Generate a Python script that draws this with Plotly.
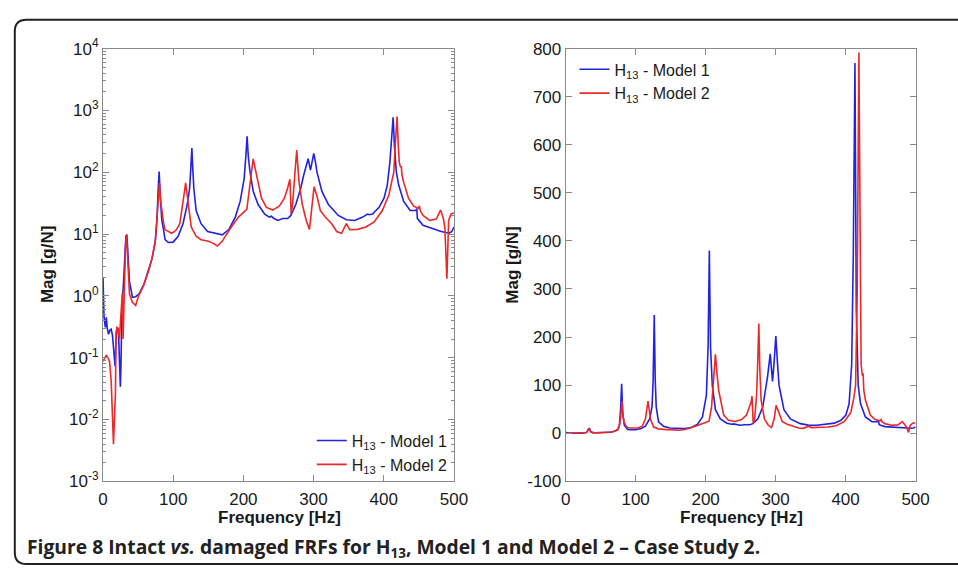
import plotly.graph_objects as go

# Frequency response magnitude |H13| [g/N] versus frequency [Hz]
freq_model1 = [0, 1.4, 3.3, 4.7, 6, 7.9, 10, 11.6, 13.5, 15.5, 17.2, 18.5, 20, 22, 23.5, 24.7,
               25.6, 27, 29, 31, 32.6, 34, 35.8, 37.7, 39.5, 41.9, 46.5, 51.2, 58.2, 65.2, 69.8,
               74.5, 76.8, 78.5, 80, 81.5, 83.8, 86.1, 88.4, 93.1, 100, 107, 114, 120, 123.4,
               125, 126.6, 128, 129.4, 132.7, 139.7, 149, 158, 170, 179.2, 188.5, 195.5, 201.1,
               203.5, 205.3, 207, 209.5, 214, 221, 230.4, 237, 240, 243, 249, 256, 263, 267.7,
               274.7, 281.7, 286, 288.6, 292.3, 295.6, 298, 300.3, 302.5, 304.9, 311.9, 321.2,
               335.2, 346.8, 358.5, 370, 377, 379.4, 384, 393.4, 400.4, 405, 408.7, 411, 413.4,
               415.3, 418, 421.3, 428.3, 437.6, 446, 447, 448, 456, 467.9, 481.8, 493.4, 497, 500]
mag_model1 = [2.0, 0.46, 0.31, 0.45, 0.3, 0.24, 0.28, 0.29, 0.23, 0.12, 0.073, 0.2, 0.31, 0.27,
              0.1, 0.034, 0.078, 0.66, 1.5, 4.0, 9.2, 9.8, 3.5, 1.7, 1.35, 0.95, 0.97, 1.07, 1.53,
              2.6, 4.0, 7.7, 16.6, 50, 103, 43, 16.6, 12, 8.1, 7.3, 7.4, 9.2, 14.7, 30, 55, 110,
              246, 110, 55, 24, 14.7, 11, 10.3, 9.7, 11.8, 18.8, 34, 79, 180, 380, 180, 100, 49,
              30, 21, 18.8, 19.5, 18, 16.6, 17.8, 17.8, 20, 30, 55, 90, 119, 165, 108, 150, 202,
              150, 100, 49, 30, 20, 17, 16.6, 18.8, 21, 20.5, 21, 27, 38, 61, 143, 370, 770, 258,
              100, 62, 34, 24, 24, 26, 17.8, 13.9, 12.4, 11, 10.3, 11, 13]

freq_model2 = [0, 4.7, 7, 9.3, 11.6, 13.5, 14.9, 16.5, 17.7, 18.6, 20, 21.5, 23.3, 25.6, 26.5,
               27.5, 28.6, 30, 32, 33.5, 35.8, 37.7, 41.9, 46.5, 50, 58.2, 65.2, 69.8, 74.5, 76.8,
               78.8, 80.5, 82, 83.8, 86.1, 88.4, 93.1, 97.8, 102, 104.7, 109.4, 114, 116, 117.7,
               119.5, 121, 125.7, 132.7, 139.7, 149, 156, 163, 170, 181.6, 193, 204.9, 208.5,
               211.5, 214, 216.5, 218.8, 225.8, 232.8, 242, 251.4, 258.4, 263, 265, 266.3, 267.5,
               268, 270, 272.8, 274.5, 276, 277.5, 279.3, 284, 289.6, 294.2, 298, 300.7, 304.9,
               309.6, 316.6, 325.9, 332.9, 339.8, 346.8, 351.5, 363, 374.7, 386.4, 398, 407.4,
               412, 414.3, 416.6, 419, 420.8, 421.5, 422.2, 424, 425, 426, 428.3, 435.3, 442.3,
               449.3, 450.8, 452, 456, 465.5, 474.8, 481, 485, 487, 490, 492.5, 495.8, 500]
mag_model2 = [0.087, 0.11, 0.1, 0.087, 0.043, 0.012, 0.004, 0.012, 0.026, 0.26, 0.31, 0.3, 0.2,
              0.52, 0.66, 1.1, 0.2, 1.5, 6, 9.8, 3.1, 1.07, 0.79, 0.7, 0.95, 1.5, 2.6, 4, 7.7, 16,
              35, 67, 35, 22, 15.7, 11.8, 11, 10.3, 11, 11.8, 14.7, 30, 48, 67, 48, 30, 13, 9.2,
              8.1, 7.7, 7.2, 6.4, 7.7, 12.4, 18.8, 25, 55, 110, 164, 120, 88, 38, 27, 24.4, 28.5,
              38, 55, 65, 77, 35, 21, 30, 79, 150, 228, 130, 69, 30, 16.6, 11.9, 30, 58, 41, 24,
              18.8, 14.7, 11, 10.3, 14.7, 11.8, 11.9, 13, 15.7, 24, 43, 75, 100, 292, 792, 258,
              205, 143, 120, 125, 90, 69, 38, 28.5, 26, 28.5, 24, 20, 16.6, 17.5, 24.4, 17.8, 13,
              1.9, 16.6, 21, 22]

series_names = ["H<sub>13</sub> - Model 1", "H<sub>13</sub> - Model 2"]
freq_ticks = [0, 100, 200, 300, 400, 500]
log_decades = [-3, -2, -1, 0, 1, 2, 3, 4]
lin_ticks = [-100, 0, 100, 200, 300, 400, 500, 600, 700, 800]

BLUE = "rgb(34,34,230)"
RED = "rgb(236,40,40)"
AXIS_GRAY = "#8a8a8a"
TEXT = "#1a1a1a"
FAMILY = "Liberation Sans, Arial, sans-serif"
TICK_FONT = dict(family=FAMILY, size=17, color=TEXT)
LEGEND_FONT = dict(family=FAMILY, size=16, color=TEXT)
TITLE_FONT = dict(family=FAMILY, size=17, color=TEXT)

fig = go.Figure()

for name, f, m, c in [(series_names[0], freq_model1, mag_model1, BLUE),
                      (series_names[1], freq_model2, mag_model2, RED)]:
    fig.add_trace(go.Scatter(x=f, y=m, mode="lines", name=name, legend="legend",
                             line=dict(color=c, width=1.6), xaxis="x", yaxis="y"))
    fig.add_trace(go.Scatter(x=f, y=m, mode="lines", name=name, legend="legend2",
                             line=dict(color=c, width=1.6), xaxis="x2", yaxis="y2"))

W, H = 958, 576
def px_x(p):
    return p / W
def px_y(p):
    return 1 - p / H

common_axis = dict(showline=True, linecolor=AXIS_GRAY, linewidth=1, mirror="allticks",
                   ticks="inside", ticklen=6, tickcolor=AXIS_GRAY, tickwidth=1,
                   showgrid=False, zeroline=False, tickfont=TICK_FONT)

minor_vals = [k * 10 ** d for d in log_decades[:-1] for k in range(2, 10)]

fig.update_layout(
    width=W, height=H,
    margin=dict(l=0, r=0, t=0, b=0),
    paper_bgcolor="white", plot_bgcolor="white",
    xaxis=dict(domain=[px_x(100), px_x(458)], range=[0, 500], tickvals=freq_ticks,
               anchor="y", ticklabelstandoff=2, **common_axis),
    yaxis=dict(domain=[px_y(488), px_y(38)], type="log", range=[-3, 4], anchor="x",
               tickvals=[10 ** d for d in log_decades],
               ticktext=[f"10<sup>{d}</sup>" for d in log_decades],
               minor=dict(tickmode="array", tickvals=minor_vals, ticks="inside", ticklen=3,
                          tickcolor=AXIS_GRAY),
               **common_axis),
    xaxis2=dict(domain=[px_x(572), px_x(929)], range=[0, 500], tickvals=freq_ticks,
                anchor="y2", ticklabelstandoff=2, **common_axis),
    yaxis2=dict(domain=[px_y(488), px_y(38)], range=[-100, 800], tickvals=lin_ticks,
                ticktext=[str(v) for v in lin_ticks], anchor="x2", **common_axis),
    legend=dict(x=px_x(313), y=px_y(428), xanchor="left", yanchor="top",
                bgcolor="rgba(0,0,0,0)", font=LEGEND_FONT, tracegroupgap=0),
    legend2=dict(x=px_x(581), y=px_y(42), xanchor="left", yanchor="top",
                 bgcolor="rgba(0,0,0,0)", font=LEGEND_FONT, tracegroupgap=0),
    showlegend=True,
)

# Axis titles
for xc, yc, txt, ang in [(44, 263, "Mag [g/N]", -90), (518, 263, "Mag [g/N]", -90),
                         (280, 526, "Frequency [Hz]", 0), (751, 526, "Frequency [Hz]", 0)]:
    fig.add_annotation(x=px_x(xc), y=px_y(yc), xref="paper", yref="paper",
                       xanchor="center", yanchor="middle", showarrow=False,
                       text=f"<b>{txt}</b>", textangle=ang, font=TITLE_FONT)

# Rounded frame around the figure (open on the right, continuing past the edge)
x0, xr = px_x(10), px_x(975)
yt, yb = px_y(8), px_y(574)
rx, ry = 12 / W, 12 / H
frame = (f"M {xr},{yt} L {x0 + rx},{yt} Q {x0},{yt} {x0},{yt - ry} "
         f"L {x0},{yb + ry} Q {x0},{yb} {x0 + rx},{yb} L {xr},{yb}")
fig.add_shape(type="path", path=frame, xref="paper", yref="paper",
              line=dict(color="#222222", width=2))

# Caption
fig.add_annotation(
    x=px_x(20), y=px_y(557), xref="paper", yref="paper", xanchor="left", yanchor="middle",
    showarrow=False,
    text="<b>Figure 8</b> <b>Intact <i>vs.</i> damaged FRFs for H<sub>13</sub>, Model 1 and Model 2 – Case Study 2.</b>",
    font=dict(family="Open Sans, sans-serif", size=19.3, color="#222222"),
)

fig.write_html("out.html")
